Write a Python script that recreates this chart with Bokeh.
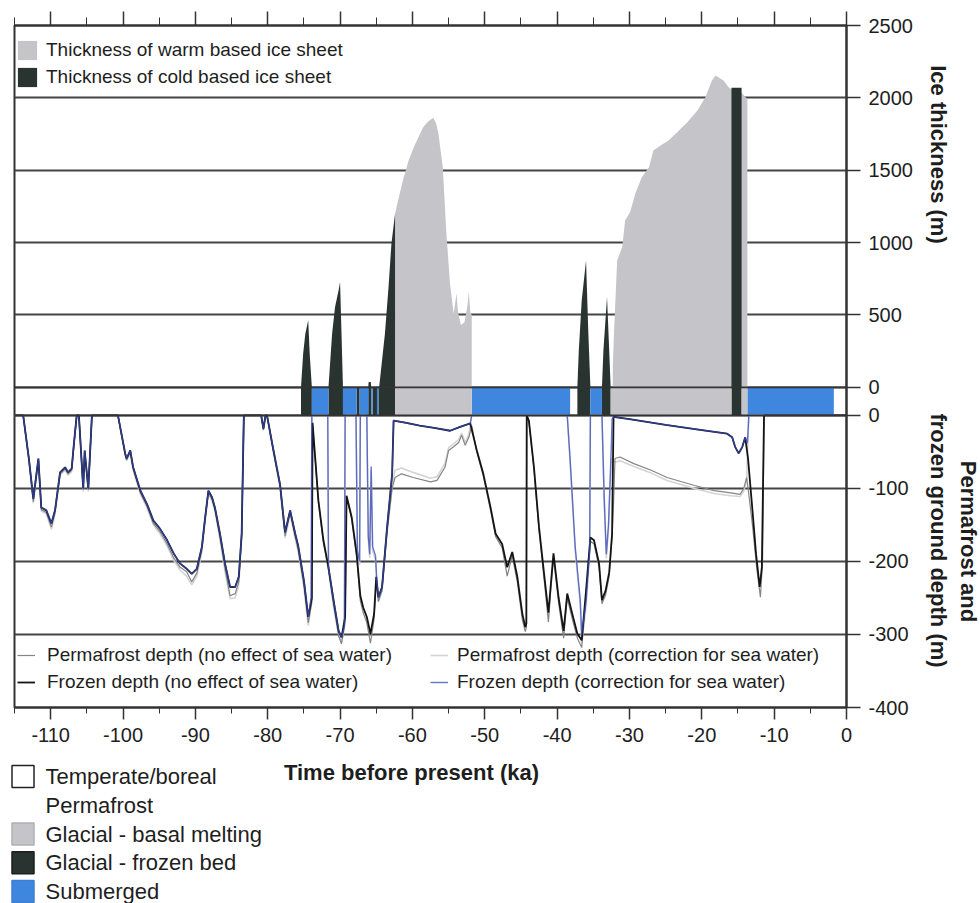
import math
from bokeh.plotting import figure
from bokeh.layouts import column, row
from bokeh.core.properties import value
from bokeh.models import (Range1d, LinearAxis, FixedTicker, SingleIntervalTicker,
                          NumeralTickFormatter, Span, Legend, LegendItem)
from bokeh.embed import file_html
from bokeh.resources import INLINE

# ---------------------------------------------------------------- data
# Warm based ice sheet thickness (m) against time (ka before present)
warm_t = [-62.4, -62.4, -61.8, -61.2, -60.5, -59.8, -59.0, -58.5, -57.8, -57.1, -56.7,
          -56.4, -55.8, -55.3, -54.8, -54.3, -53.9, -53.7, -53.3, -52.8, -52.4, -52.2,
          -52.0, -51.8, -51.8,
          -32.3, -32.3, -32.1, -31.7, -31.0, -30.6, -29.9, -29.2, -28.3, -27.3, -26.7,
          -25.7, -24.6, -23.4, -22.0, -20.6, -19.5, -18.6, -18.1, -17.0, -16.3, -15.9,
          -14.5, -13.7, -13.7]
warm_h = [0, 1200, 1330, 1452, 1570, 1660, 1745, 1798, 1838, 1862, 1820,
          1752, 1521, 1061, 716, 509, 650, 520, 430, 450, 560, 660,
          520, 500, 0,
          0, 150, 420, 877, 969, 1153, 1211, 1338, 1452, 1521, 1637,
          1671, 1706, 1763, 1832, 1913, 2005, 2120, 2155, 2120, 2074, 2060,
          2035, 1990, 0]

# Cold based ice sheet thickness (m)
cold_t = [-75.4, -75.1, -74.8, -74.4, -74.2, -73.9,
          -71.6, -71.1, -70.7, -70.2, -70.0, -69.8, -69.6,
          -66.1, -66.05, -65.75, -65.7,
          -64.6, -63.8, -63.3, -62.9, -62.4, -62.4,
          -37.2, -37.0, -36.6, -36.0, -35.7, -35.4,
          -33.8, -33.6, -33.1, -32.8, -32.6,
          -15.9, -15.9, -14.5, -14.5]
cold_h = [0, 233, 371, 463, 233, 0,
          0, 371, 554, 670, 727, 371, 0,
          0, 37, 37, 0,
          0, 371, 693, 992, 1200, 0,
          0, 256, 600, 877, 400, 0,
          0, 255, 624, 255, 0,
          0, 2070, 2070, 0]

# Ground surface state band (start, end in ka)
cold_band_l = [-75.4, -71.6, -67.7, -66.1, -65.5, -64.7, -37.2, -33.8, -15.9]
cold_band_r = [-73.9, -69.6, -67.3, -65.7, -64.9, -62.4, -35.4, -32.6, -14.5]
sub_band_l = [-73.9, -69.6, -67.3, -65.7, -64.9, -51.8, -35.4, -13.7]
sub_band_r = [-71.6, -67.7, -66.1, -65.5, -64.7, -38.2, -33.8, -1.75]
warm_band_l = [-62.4, -32.6, -14.5]
warm_band_r = [-51.8, -15.9, -13.7]

# Frozen depth, no effect of sea water (m)
frz_t = [-115.0, -113.8, -113.0, -112.4, -111.7, -111.3, -110.6, -109.9, -109.4, -108.7,
         -108.0, -107.6, -107.1, -106.8, -106.4, -106.1, -105.5, -105.3, -104.8, -104.3,
         -100.7, -99.7, -99.5, -99.0, -98.6, -97.6, -96.7, -95.8, -94.9, -93.9,
         -93.0, -92.1, -91.2, -90.5, -89.8, -89.1, -88.7, -88.2, -87.7, -87.3,
         -86.6, -85.9, -85.2, -84.5, -84.0, -83.6, -83.3, -80.9, -80.6, -80.3,
         -80.1, -79.2, -78.3, -77.6, -76.9, -76.2, -75.8, -75.0, -74.4, -73.9,
         -73.8, -73.0, -72.3, -71.6, -70.9, -70.2, -69.8, -69.3, -69.1, -68.4,
         -67.7, -67.2, -66.8, -66.3, -65.8, -65.3, -65.0, -64.7, -64.2, -63.5,
         -62.8, -62.6, -61.0, -59.0, -57.0, -54.8, -53.5, -52.0, -51.1, -50.2,
         -49.2, -48.5, -47.6, -46.9, -46.2, -45.5, -44.8, -44.4, -44.25, -44.2,
         -43.9, -43.2, -42.5, -41.8, -41.2, -40.9, -40.5, -39.8, -39.1, -38.6,
         -37.9, -37.2, -36.6, -36.0, -35.4, -34.9, -34.2, -33.8, -33.3, -32.8,
         -32.4, -32.2, -30.0, -25.0, -20.0, -16.5, -15.8, -15.4, -14.9, -14.4,
         -14.0, -13.6, -13.0, -12.5, -12.0, -11.7, -11.4, 0.0]
frz_d = [0, 0, -60, -114, -59, -126, -130, -148, -130, -78,
         -71, -78, -73, -40, 0, 0, -100, -48, -100, 0,
         0, -52, -59, -48, -71, -103, -121, -144, -155, -171,
         -189, -203, -210, -217, -210, -180, -144, -103, -112, -126,
         -162, -203, -235, -235, -221, -162, 0, 0, -18, 0,
         0, -48, -94, -160, -130, -162, -178, -226, -276, -250,
         -10, -116, -171, -208, -253, -295, -304, -276, -110, -139,
         -190, -247, -263, -276, -299, -272, -221, -249, -235, -153,
         -80, -7, -10, -14, -17, -21, -16, -11, -48, -80,
         -126, -162, -176, -208, -187, -221, -272, -290, -285, 0,
         -7, -71, -153, -217, -270, -235, -189, -249, -295, -244,
         -272, -299, -308, -240, -167, -171, -203, -253, -240, -215,
         -162, -2, -5, -13, -20, -25, -30, -43, -52, -43,
         -30, -60, -130, -190, -235, -208, 0, 0]

# Permafrost depth, no effect of sea water (m)
pf_t = [-115.0, -113.8, -113.0, -112.4, -111.7, -111.3, -110.6, -109.9, -109.4, -108.7,
        -108.0, -107.6, -107.1, -106.8, -106.4, -106.1, -105.5, -105.3, -104.8, -104.3,
        -100.7, -99.7, -99.5, -99.0, -98.6, -97.6, -96.7, -95.8, -94.9, -93.9,
        -93.0, -92.1, -91.2, -90.5, -89.8, -89.1, -88.7, -88.2, -87.7, -87.3,
        -86.6, -85.9, -85.2, -84.5, -84.0, -83.6, -83.3, -80.9, -80.6, -80.3,
        -80.1, -79.2, -78.3, -77.6, -76.9, -76.2, -75.8, -75.0, -74.4, -73.9,
        -73.8, -73.0, -72.3, -71.6, -70.9, -70.2, -69.8, -69.3, -69.1, -68.4,
        -67.7, -67.2, -66.8, -66.3, -65.8, -65.3, -65.0, -64.7, -64.2, -63.5,
        -62.8, -62.4, -61.5, -59.9, -57.5, -56.6, -55.5, -55.0, -54.3, -53.6,
        -53.2, -52.7, -52.2, -51.8, -51.1, -50.2, -49.2, -48.5, -47.6, -46.9,
        -46.2, -45.5, -44.8, -44.4, -44.25, -44.2, -43.9, -43.2, -42.5, -41.8,
        -41.2, -40.9, -40.5, -39.8, -39.1, -38.6, -37.9, -37.2, -36.6, -36.0,
        -35.4, -34.9, -34.2, -33.8, -33.3, -32.8, -32.4, -32.2, -32.0, -31.3,
        -29.4, -27.0, -24.8, -21.0, -18.3, -16.0, -14.7, -14.2, -13.8, -13.6,
        -13.0, -12.4, -11.9, -11.6, -11.4, 0.0]
pf_d = [0, 0, -62, -118, -61, -129, -133, -153, -133, -80,
        -73, -80, -75, -42, 0, 0, -102, -50, -102, 0,
        0, -54, -61, -50, -73, -106, -124, -148, -159, -176,
        -195, -208, -214, -228, -216, -184, -147, -105, -115, -129,
        -167, -210, -247, -244, -228, -166, 0, 0, -20, 0,
        0, -50, -97, -165, -133, -166, -183, -232, -284, -256,
        -12, -119, -175, -212, -259, -302, -313, -282, -113, -142,
        -195, -254, -270, -284, -312, -279, -227, -255, -240, -160,
        -100, -85, -80, -85, -91, -89, -71, -48, -43, -37,
        -27, -41, -30, -14, -50, -83, -130, -166, -181, -220,
        -192, -228, -280, -296, -290, 0, -9, -74, -158, -224,
        -283, -242, -195, -256, -305, -250, -279, -305, -318, -247,
        -172, -176, -208, -258, -246, -220, -165, -120, -59, -57,
        -66, -75, -85, -96, -103, -106, -108, -100, -85, -100,
        -150, -210, -249, -200, 0, 0]

# Frozen depth, correction for sea water (m)
frzc_t = [-115.0, -113.8, -113.0, -112.4, -111.7, -111.3, -110.6, -109.9, -109.4, -108.7,
          -108.0, -107.6, -107.1, -106.8, -106.4, -106.1, -105.5, -105.3, -104.8, -104.3,
          -100.7, -99.7, -99.5, -99.0, -98.6, -97.6, -96.7, -95.8, -94.9, -93.9,
          -93.0, -92.1, -91.2, -90.5, -89.8, -89.1, -88.7, -88.2, -87.7, -87.3,
          -86.6, -85.9, -85.2, -84.5, -84.0, -83.6, -83.3, -80.9, -80.6, -80.3,
          -80.1, -79.2, -78.3, -77.6, -76.9, -76.2, -75.8, -75.0, -74.4, -74.0,
          -73.9, -71.7, -71.6, -70.9, -70.2, -69.8, -69.4, -69.3, -67.8, -67.6,
          -67.3, -67.2, -66.3, -66.1, -65.9, -65.7, -65.5, -65.1, -64.9, -64.7,
          -64.2, -63.5, -62.8, -62.6, -61.0, -59.0, -57.0, -54.8, -53.5, -52.0,
          -51.8, -38.6, -38.2, -37.5, -36.8, -36.6, -36.0, -35.5, -35.4, -33.8,
          -33.5, -33.2, -32.9, -32.5, -32.4, -32.2, -30.0, -25.0, -20.0, -16.5,
          -15.8, -15.4, -14.9, -14.4, -14.0, -13.7, -13.5, 0.0]
frzc_d = [0, 0, -60, -114, -59, -126, -130, -148, -130, -78,
          -71, -78, -73, -40, 0, 0, -100, -48, -100, 0,
          0, -52, -59, -48, -71, -103, -121, -144, -155, -171,
          -189, -203, -210, -217, -210, -180, -144, -103, -112, -126,
          -162, -203, -235, -235, -221, -162, 0, 0, -18, 0,
          0, -48, -94, -160, -130, -162, -178, -226, -276, -250,
          0, 0, -208, -253, -295, -304, -288, 0, 0, -185,
          -200, 0, 0, -165, -190, -70, -180, -192, -230, -249,
          -235, -153, -80, -7, -10, -14, -17, -21, -16, -11,
          0, 0, -60, -180, -253, -300, -255, -185, 0, 0,
          -110, -190, -150, -40, -5, -2, -5, -13, -20, -25,
          -30, -43, -52, -43, -30, -38, 0, 0]

# Permafrost depth, correction for sea water (m)
pfc_t = [-115.0, -113.8, -113.0, -112.4, -111.7, -111.3, -110.6, -109.9, -109.4, -108.7,
         -108.0, -107.6, -107.1, -106.8, -106.4, -106.1, -105.5, -105.3, -104.8, -104.3,
         -100.7, -99.7, -99.5, -99.0, -98.6, -97.6, -96.7, -95.8, -94.9, -93.9,
         -93.0, -92.1, -91.2, -90.5, -89.8, -89.1, -88.7, -88.2, -87.7, -87.3,
         -86.6, -85.9, -85.2, -84.5, -84.0, -83.6, -83.3, -80.9, -80.6, -80.3,
         -80.1, -79.2, -78.3, -77.6, -76.9, -76.2, -75.8, -75.0, -74.4, -74.0,
         -73.9, -71.7, -71.6, -70.9, -70.2, -69.8, -69.4, -69.3, -67.8, -67.6,
         -67.3, -67.2, -66.3, -66.1, -65.9, -65.7, -65.5, -65.1, -64.9, -64.7,
         -64.2, -63.5, -62.8, -62.4, -61.5, -59.9, -57.5, -56.6, -55.5, -55.0,
         -54.3, -53.6, -53.2, -52.7, -52.2, -51.8, -38.6, -38.2, -37.5, -36.8,
         -36.6, -36.0, -35.5, -35.4, -33.8, -33.5, -33.2, -32.9, -32.5, -32.2,
         -32.0, -31.3, -29.4, -27.0, -24.8, -21.0, -18.3, -16.0, -14.7, -14.2,
         -13.8, -13.5, 0.0]
pfc_d = [0, 0, -63, -120, -62, -131, -135, -156, -135, -82,
         -75, -82, -77, -43, 0, 0, -104, -51, -104, 0,
         0, -55, -62, -51, -75, -108, -126, -150, -162, -179,
         -198, -212, -220, -232, -220, -187, -150, -107, -117, -131,
         -170, -214, -251, -250, -232, -170, 0, 0, -21, 0,
         0, -51, -99, -168, -136, -169, -186, -236, -288, -258,
         0, 0, -212, -262, -300, -310, -292, 0, 0, -190,
         -205, 0, 0, -170, -195, -75, -185, -198, -236, -255,
         -240, -158, -95, -75, -72, -78, -86, -84, -66, -44,
         -39, -33, -24, -37, -26, 0, 0, -65, -185, -260,
         -312, -262, -190, 0, 0, -115, -196, -156, -60, -62,
         -64, -62, -70, -79, -89, -100, -107, -110, -111, -104,
         -88, 0, 0]

# Ground state key
key_labels = ["Temperate/boreal", "Permafrost", "Glacial - basal melting",
              "Glacial - frozen bed", "Submerged"]

# ---------------------------------------------------------------- scales & style
DEPTH_LO, DEPTH_HI = -400, 534
ICE_LO, ICE_HI = -2212, 2500


def ice_to_depth(v):
    """Position of an ice-thickness value on the depth scale (shared frame)."""
    return DEPTH_LO + (v - ICE_LO) / (ICE_HI - ICE_LO) * (DEPTH_HI - DEPTH_LO)


BAND_TOP = ice_to_depth(0)

WARM = "#c5c5c9"
COLD = "#29332f"
SEA = "#3f87de"
GRID = "#454545"
INK = "#1e1e1e"
FONT = "Liberation Sans"

# ---------------------------------------------------------------- main panel
p = figure(width=920, height=760,
           x_range=Range1d(-115, 0), y_range=Range1d(DEPTH_LO, DEPTH_HI),
           y_axis_location="right", output_backend="svg", toolbar_location=None,
           min_border_left=14, min_border_right=74, min_border_top=25,
           min_border_bottom=53,
           background_fill_color="white", border_fill_color="white",
           outline_line_color="#333333", outline_line_width=2)
p.extra_y_ranges = {"ice": Range1d(ICE_LO, ICE_HI)}

depth_ticks = [-400, -300, -200, -100, 0]
ice_ticks = [0, 500, 1000, 1500, 2000, 2500]
ice_tick_pos = [ice_to_depth(v) for v in ice_ticks]
yticker = FixedTicker(ticks=depth_ticks + ice_tick_pos)

yax = p.yaxis[0]
yax.ticker = yticker
yax.formatter = NumeralTickFormatter(format="0")
yax.major_label_overrides = {pos: str(v) for pos, v in zip(ice_tick_pos, ice_ticks)}
yax.major_tick_out = 14
yax.major_tick_in = 0
yax.minor_tick_out = 0
yax.major_tick_line_color = "#333333"
yax.major_tick_line_width = 1.5
yax.axis_line_color = "#333333"
yax.axis_line_width = 2
yax.major_label_standoff = 8
yax.major_label_text_font = FONT
yax.major_label_text_font_size = "20px"
yax.major_label_text_color = INK

p.ygrid.ticker = yticker
p.ygrid.grid_line_color = GRID
p.ygrid.grid_line_width = 2
p.xgrid.visible = False

xax = p.xaxis[0]
xax.ticker = SingleIntervalTicker(interval=10, num_minor_ticks=2)
xax.formatter = NumeralTickFormatter(format="0")
xax.major_tick_out = 12
xax.major_tick_in = 0
xax.minor_tick_out = 6
xax.minor_tick_in = 0
xax.major_tick_line_color = "#333333"
xax.minor_tick_line_color = "#333333"
xax.major_tick_line_width = 1.5
xax.axis_line_color = "#333333"
xax.axis_line_width = 2
xax.major_label_standoff = 8
xax.major_label_text_font = FONT
xax.major_label_text_font_size = "20px"
xax.major_label_text_color = INK

top_ax = LinearAxis(ticker=SingleIntervalTicker(interval=10, num_minor_ticks=2),
                    major_tick_out=14, major_tick_in=0, minor_tick_out=8, minor_tick_in=0,
                    major_tick_line_color="#333333", minor_tick_line_color="#333333",
                    major_tick_line_width=1.5, axis_line_color="#333333", axis_line_width=2,
                    major_label_text_font_size="1px", major_label_text_alpha=0,
                    major_label_standoff=0)
p.add_layout(top_ax, "above")

# ground state band between the two zero lines
p.quad(left=cold_band_l, right=cold_band_r, bottom=0, top=BAND_TOP,
       fill_color=COLD, line_color=None)
p.quad(left=sub_band_l, right=sub_band_r, bottom=0, top=BAND_TOP,
       fill_color=SEA, line_color=None)
p.quad(left=warm_band_l, right=warm_band_r, bottom=0, top=BAND_TOP,
       fill_color=WARM, line_color=None)

# ice sheet thickness
r_warm = p.varea(x=warm_t, y1=0, y2=warm_h, y_range_name="ice", fill_color=WARM)
r_cold = p.varea(x=cold_t, y1=0, y2=cold_h, y_range_name="ice", fill_color=COLD)

# depth curves
r_pfc = p.line(pfc_t, pfc_d, line_color="#d4d4d4", line_width=1.6)
r_pf = p.line(pf_t, pf_d, line_color="#858585", line_width=1.2)
r_frz = p.line(frz_t, frz_d, line_color="#141414", line_width=1.8)
r_frzc = p.line(frzc_t, frzc_d, line_color="#3448b8", line_width=1.4, line_alpha=0.75)

# zero lines bounding the band
p.add_layout(Span(location=0, dimension="width", line_color="#333333", line_width=1.6))
p.add_layout(Span(location=BAND_TOP, dimension="width", line_color="#333333", line_width=1.6))

common = dict(border_line_alpha=0, background_fill_alpha=0, padding=0, margin=0,
              label_text_font=FONT, label_text_color=INK)

p.add_layout(Legend(items=[LegendItem(label="Thickness of warm based ice sheet", renderers=[r_warm]),
                           LegendItem(label="Thickness of cold based ice sheet", renderers=[r_cold])],
                    location=(1, 618), glyph_width=24, glyph_height=24, label_height=24,
                    spacing=3, label_standoff=7, label_text_font_size="19px", **common))
p.add_layout(Legend(items=[LegendItem(label="Permafrost depth (no effect of sea water)", renderers=[r_pf]),
                           LegendItem(label="Frozen depth (no effect of sea water)", renderers=[r_frz])],
                    location=(3, 14), glyph_width=18, glyph_height=22, label_height=22,
                    spacing=5, label_standoff=12, label_text_font_size="19px", **common))
p.add_layout(Legend(items=[LegendItem(label="Permafrost depth (correction for sea water)", renderers=[r_pfc]),
                           LegendItem(label="Frozen depth (correction for sea water)", renderers=[r_frzc])],
                    location=(416, 14), glyph_width=18, glyph_height=22, label_height=22,
                    spacing=5, label_standoff=9, label_text_font_size="19px", **common))

title_style = dict(text_font=value(FONT), text_font_style="bold", text_font_size="22px",
                   text_color=INK, text_align="center", text_baseline="middle")


def blank_panel(w, h, top=0, bottom=0):
    """Axis-free panel whose data coordinates are page pixels (y downwards)."""
    f = figure(width=w, height=h, x_range=Range1d(0, w), y_range=Range1d(h - bottom, top),
               x_axis_location=None, y_axis_location=None, min_border=0,
               min_border_top=top, min_border_bottom=bottom,
               outline_line_color=None, background_fill_color="white",
               border_fill_color="white", output_backend="svg", toolbar_location=None)
    f.xgrid.visible = False
    f.ygrid.visible = False
    return f


# ---------------------------------------------------------------- right-hand axis titles
side = blank_panel(60, 760, top=25, bottom=53)
side.text(x=[18, 48, 18], y=[154, 541, 540],
          text=["Ice thickness (m)", "Permafrost and", "frozen ground depth (m)"],
          angle=-math.pi / 2, **title_style)

# ---------------------------------------------------------------- time axis title and ground state key
bottom = blank_panel(980, 143)
bottom.text(x=[411], y=[12], text=["Time before present (ka)"], **title_style)

key_y = [16 + 28.75 * i for i in range(len(key_labels))]
bottom.rect(x=22.5, y=key_y, width=22, height=22,
            fill_color=["white", "white", WARM, COLD, SEA],
            fill_alpha=[1, 0, 1, 1, 1],
            line_color=["#222222", "#222222", "#b0b0b4", "#1a1f1d", "#3a7fd4"],
            line_alpha=[1, 0, 1, 1, 1], line_width=1.5)
bottom.text(x=45, y=key_y, text=key_labels, text_font=value(FONT), text_font_size="22px",
            text_color=INK, text_align="left", text_baseline="middle")

layout = column(row(p, side), bottom)

open("out.html", "w").write(file_html(layout, INLINE))
